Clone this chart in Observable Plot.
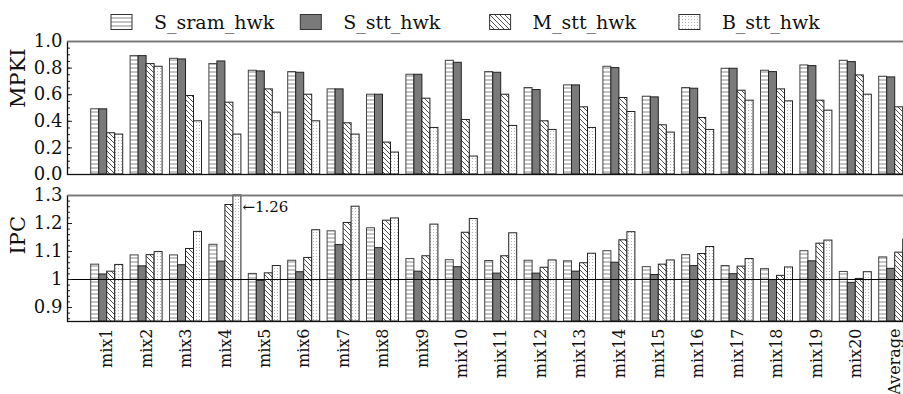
<!DOCTYPE html>
<html><head><meta charset="utf-8">
<script src="https://cdn.jsdelivr.net/npm/d3@7"></script>
<script src="https://cdn.jsdelivr.net/npm/@observablehq/plot@0.6"></script>
<style>
html,body{margin:0;padding:0;background:#fff;overflow:hidden;width:903px;height:394px;}
#legend svg,#topPanel svg,#bottomPanel svg{display:block;}
</style></head>
<body>
<svg width="0" height="0" style="position:absolute"><defs>
<pattern id="pStripe" patternUnits="userSpaceOnUse" width="8" height="4">
  <rect width="8" height="4" fill="white"/>
  <line x1="0" y1="2" x2="8" y2="2" stroke="#8a8a8a" stroke-width="1"/>
</pattern>
<pattern id="pHatch" patternUnits="userSpaceOnUse" width="5" height="5">
  <rect width="5" height="5" fill="white"/>
  <path d="M0,0 L5,5 M-1,4 L1,6 M4,-1 L6,1" stroke="#333" stroke-width="0.85"/>
</pattern>
<pattern id="pDots" patternUnits="userSpaceOnUse" width="3" height="3">
  <rect width="3" height="3" fill="white"/>
  <rect x="1" y="1" width="1" height="1" fill="#b4b4b4"/>
</pattern>
</defs></svg>
<div id="legend"></div>
<div id="topPanel"></div>
<div id="bottomPanel"></div>
<script>
const mixes = ["mix1","mix2","mix3","mix4","mix5","mix6","mix7","mix8","mix9","mix10","mix11","mix12","mix13","mix14","mix15","mix16","mix17","mix18","mix19","mix20","Average"];
const seriesNames = ["S_sram_hwk","S_stt_hwk","M_stt_hwk","B_stt_hwk"];

const mpkiSram = [0.49,0.89,0.87,0.83,0.78,0.77,0.64,0.60,0.75,0.855,0.77,0.65,0.67,0.81,0.585,0.65,0.795,0.78,0.82,0.855,0.735];
const mpkiSstt = [0.49,0.89,0.865,0.85,0.775,0.765,0.64,0.60,0.75,0.84,0.765,0.635,0.67,0.80,0.58,0.645,0.795,0.77,0.815,0.845,0.73];
const mpkiMstt = [0.31,0.83,0.59,0.54,0.64,0.60,0.385,0.24,0.57,0.41,0.60,0.40,0.505,0.575,0.37,0.425,0.63,0.64,0.555,0.745,0.505];
const mpkiBstt = [0.30,0.81,0.40,0.30,0.465,0.40,0.30,0.165,0.35,0.135,0.365,0.335,0.35,0.47,0.315,0.335,0.555,0.55,0.48,0.60,0.40];

const ipcSram = [1.053,1.086,1.086,1.124,1.020,1.067,1.172,1.183,1.073,1.069,1.066,1.067,1.065,1.101,1.044,1.087,1.048,1.037,1.101,1.027,1.079];
const ipcSstt = [1.018,1.047,1.051,1.064,0.995,1.026,1.123,1.112,1.028,1.044,1.021,1.021,1.028,1.060,1.016,1.048,1.019,0.998,1.065,0.988,1.038];
const ipcMstt = [1.028,1.087,1.109,1.266,1.022,1.077,1.202,1.210,1.083,1.167,1.083,1.042,1.058,1.140,1.053,1.091,1.046,1.013,1.128,1.002,1.096];
const ipcBstt = [1.052,1.098,1.170,1.300,1.048,1.176,1.260,1.218,1.196,1.216,1.165,1.068,1.092,1.169,1.068,1.116,1.073,1.043,1.139,1.026,1.142];

const mpkiDomain = [0, 1.0];
const mpkiTicks = [0, 0.2, 0.4, 0.6, 0.8, 1.0];
const mpkiTickLabels = ["0.0","0.2","0.4","0.6","0.8","1.0"];
const ipcDomain = [0.85, 1.3];
const ipcTicks = [0.9, 1.0, 1.1, 1.2, 1.3];
const ipcTickLabels = ["0.9","1","1.1","1.2","1.3"];
const ipcRef = 1.0;
const ipcAnnot = {mix: "mix4", value: 1.26, label: "\u21901.26"};

const fills = ["url(#pStripe)", "#7a7a7a", "url(#pHatch)", "url(#pDots)"];
const strokes = ["#444", "#222", "#222", "#222"];
const serif = "DejaVu Serif";

// legend
const lg = d3.select("#legend").append("svg").attr("width", 903).attr("height", 34)
  .style("font-family", serif).style("font-size", "19px");
seriesNames.forEach((name, i) => {
  const x0 = 111 + 189.3 * i;
  lg.append("rect").attr("x", x0).attr("y", 14.5).attr("width", 21).attr("height", 15)
    .attr("fill", fills[i]).attr("stroke", "#333").attr("stroke-width", 1);
  lg.append("text").attr("x", x0 + 43).attr("y", 29).attr("fill", "#111").text(name);
});

const W = 944, ML = 67, MR = 9;
const plotW = W - ML - MR;
const xScale = {type: "band", domain: mixes, range: [67, 934.4], paddingInner: 0.1878, paddingOuter: 0.6015, align: 0.5, round: false};
const barW = 8;
const rows = arr => mixes.map((m, i) => ({mix: m, v: arr[i]}));
const plotStyle = {fontFamily: serif, fontSize: "18px", background: "white", color: "#111", maxWidth: "none", overflow: "visible"};

function barMarks(arrs, base) {
  return arrs.map((arr, s) => Plot.barY(rows(arr), {
    x: "mix", y1: base, y2: "v",
    fill: fills[s], stroke: strokes[s], strokeWidth: 1,
    insetLeft: barW * s, insetRight: barW * (3 - s)
  }));
}

const mpkiMinor = d3.range(0, 1.0001, 0.05);
const topPlot = Plot.plot({
  width: W, height: 146, marginLeft: ML, marginRight: MR, marginTop: 7, marginBottom: 6,
  style: plotStyle,
  x: {...xScale, axis: null},
  y: {domain: mpkiDomain, axis: null},
  marks: [
    ...barMarks([mpkiSram, mpkiSstt, mpkiMstt, mpkiBstt], 0),
    Plot.tickY(mpkiMinor, {y: d => d, insetRight: plotW - 3, stroke: "#222"}),
    Plot.tickY(mpkiTicks, {y: d => d, insetRight: plotW - 5, stroke: "#222"}),
    Plot.axisY({ticks: mpkiTicks, tickFormat: d => mpkiTickLabels[mpkiTicks.indexOf(d)], tickSize: 0, tickPadding: 5, fontSize: 18, label: null}),
    Plot.frame({stroke: "#111", strokeWidth: 1.3}),
    Plot.ruleY([mpkiDomain[1]], {stroke: "#777", strokeWidth: 1.6}),
    Plot.text(["MPKI"], {frameAnchor: "left", text: d => d, rotate: -90, dx: -49, fontSize: 21})
  ]
});
document.getElementById("topPanel").appendChild(topPlot);

const ipcMinor = d3.range(0.86, 1.3001, 0.02);
const bottomPlot = Plot.plot({
  width: W, height: 214, marginLeft: ML, marginRight: MR, marginTop: 15, marginBottom: 73,
  style: plotStyle,
  x: {...xScale},
  y: {domain: ipcDomain, axis: null},
  marks: [
    ...barMarks([ipcSram, ipcSstt, ipcMstt, ipcBstt], ipcDomain[0]),
    Plot.ruleY([ipcRef], {stroke: "#000", strokeWidth: 1.2}),
    Plot.tickY(ipcMinor, {y: d => d, insetRight: plotW - 3, stroke: "#222"}),
    Plot.tickY(ipcTicks, {y: d => d, insetRight: plotW - 5, stroke: "#222"}),
    Plot.axisY({ticks: ipcTicks, tickFormat: d => ipcTickLabels[ipcTicks.indexOf(d)], tickSize: 0, tickPadding: 5, fontSize: 18, label: null}),
    Plot.axisX({tickRotate: -90, tickSize: 0, tickPadding: 7, fontSize: 16, label: null}),
    Plot.frame({stroke: "#111", strokeWidth: 1.3}),
    Plot.ruleY([ipcDomain[1]], {stroke: "#777", strokeWidth: 1.6}),
    Plot.text([ipcAnnot], {x: "mix", y: "value", text: "label", dx: 17, textAnchor: "start", fontSize: 15}),
    Plot.text(["IPC"], {frameAnchor: "left", text: d => d, rotate: -90, dx: -49, dy: -4, fontSize: 21})
  ]
});
document.getElementById("bottomPanel").appendChild(bottomPlot);
</script>
</body></html>
